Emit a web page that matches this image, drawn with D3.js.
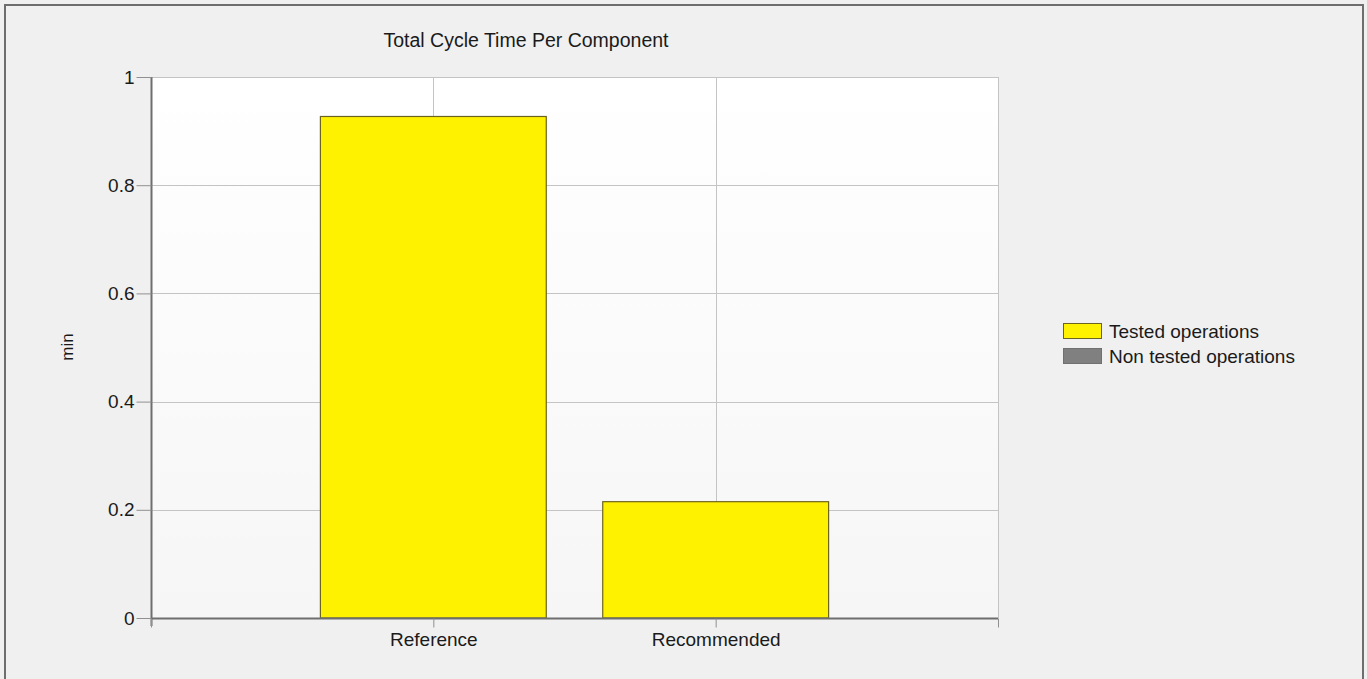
<!DOCTYPE html>
<html>
<head>
<meta charset="utf-8">
<script src="https://cdn.jsdelivr.net/npm/d3@7/dist/d3.min.js"></script>
<style>
  html, body { margin: 0; padding: 0; background: #f0f0f0; }
  svg { display: block; }
  text { font-family: "Liberation Sans", Arial, sans-serif; fill: #1a1a1a; }
</style>
</head>
<body>
<svg id="chart" width="1367" height="679"></svg>
<script>
const categories = ["Reference", "Recommended"];
const testedValues = [0.927, 0.215];
const nonTestedValues = [0, 0];
const yTicks = [0, 0.2, 0.4, 0.6, 0.8, 1];
const legendLabels = ["Tested operations", "Non tested operations"];
const legendColors = ["#fff200", "#808080"];
const chartTitle = "Total Cycle Time Per Component";
const yTitle = "min";

(function () {
const svg = d3.select("#chart");
const W = 1367, H = 679;
const FONT = "Liberation Sans, Arial, sans-serif";

svg.append("rect").attr("x", 0).attr("y", 0).attr("width", W).attr("height", H).attr("fill", "#f0f0f0");
svg.append("path").attr("d", `M5,${H} V5 H1363 V${H}`).attr("fill", "none").attr("stroke", "#6e6e6e").attr("stroke-width", 2);

const pL = 151, pR = 998, pT = 77, pB = 618;

const x = d3.scaleLinear().domain([0, categories.length + 1]).range([pL, pR]);
const y = d3.scaleLinear().domain([0, 1]).range([pB, pT]);
const slot = x(1) - x(0);
const barW = slot * 0.8;

const defs = svg.append("defs");
const grad = defs.append("linearGradient").attr("id", "pg").attr("x1", 0).attr("y1", 0).attr("x2", 0).attr("y2", 1);
grad.append("stop").attr("offset", "0%").attr("stop-color", "#ffffff");
grad.append("stop").attr("offset", "100%").attr("stop-color", "#f6f6f6");
svg.append("rect").attr("x", pL).attr("y", pT).attr("width", pR - pL).attr("height", pB - pT).attr("fill", "url(#pg)");

svg.append("g").selectAll("line").data(yTicks.filter(d => d > 0)).join("line")
  .attr("x1", pL).attr("x2", pR)
  .attr("y1", d => Math.round(y(d)) + 0.5).attr("y2", d => Math.round(y(d)) + 0.5)
  .attr("stroke", "#c4c4c4").attr("stroke-width", 1);

const xGridVals = d3.range(1, categories.length + 2);
svg.append("g").selectAll("line").data(xGridVals).join("line")
  .attr("x1", d => Math.round(x(d)) + 0.5).attr("x2", d => Math.round(x(d)) + 0.5)
  .attr("y1", pT).attr("y2", pB)
  .attr("stroke", "#c4c4c4").attr("stroke-width", 1);

const barsG = svg.append("g");
categories.forEach((c, i) => {
  const cx = x(i + 1);
  barsG.append("rect")
    .attr("x", cx - barW / 2).attr("width", barW)
    .attr("y", y(testedValues[i])).attr("height", y(0) - y(testedValues[i]))
    .attr("fill", legendColors[0]).attr("stroke", "#6b6420").attr("stroke-width", 1.2);
  if (nonTestedValues[i] > 0) {
    const base = testedValues[i];
    barsG.append("rect")
      .attr("x", cx - barW / 2).attr("width", barW)
      .attr("y", y(base + nonTestedValues[i])).attr("height", y(base) - y(base + nonTestedValues[i]))
      .attr("fill", legendColors[1]).attr("stroke", "#555").attr("stroke-width", 1.2);
  }
});

const yAxis = d3.axisLeft(y).tickValues(yTicks).tickFormat(d => d === 0 ? "0" : d === 1 ? "1" : d3.format(".1f")(d)).tickSize(15).tickPadding(2);
const yg = svg.append("g").attr("transform", `translate(${pL + 0.5},0)`).call(yAxis);
yg.select(".domain").attr("stroke", "#6e6e6e").attr("stroke-width", 2).attr("d", `M0,${pT}V${pB + 8}`);
yg.selectAll(".tick line").attr("stroke", "#909090");
yg.selectAll(".tick text").attr("font-size", 19).attr("fill", "#1a1a1a").attr("font-family", FONT);

const xAxis = d3.axisBottom(x).tickValues(d3.range(0, categories.length + 2)).tickFormat(d => (d >= 1 && d <= categories.length) ? categories[d - 1] : "").tickSize(9).tickPadding(5);
const xg = svg.append("g").attr("transform", `translate(0,${pB + 0.5})`).call(xAxis);
xg.select(".domain").attr("stroke", "#6e6e6e").attr("stroke-width", 2).attr("d", `M${pL},0H${pR}`);
xg.selectAll(".tick line").attr("stroke", "#909090");
xg.selectAll(".tick text").attr("font-size", 19).attr("fill", "#1a1a1a").attr("font-family", FONT);

svg.append("text").attr("x", 526).attr("y", 47).attr("text-anchor", "middle").attr("font-size", 19.5).text(chartTitle);

svg.append("text").attr("transform", "translate(73,347) rotate(-90)").attr("text-anchor", "middle").attr("font-size", 17).text(yTitle);

const lg = svg.append("g").attr("transform", "translate(1063,323)");
legendLabels.forEach((l, i) => {
  lg.append("rect").attr("x", 0.5).attr("y", i * 25 + 0.5).attr("width", 38).attr("height", 15)
    .attr("fill", legendColors[i]).attr("stroke", i === 0 ? "#6b6420" : "#707070").attr("stroke-width", 1);
  lg.append("text").attr("x", 46).attr("y", i * 25 + 15).attr("font-size", 19).text(l);
});
})();
</script>
</body>
</html>
